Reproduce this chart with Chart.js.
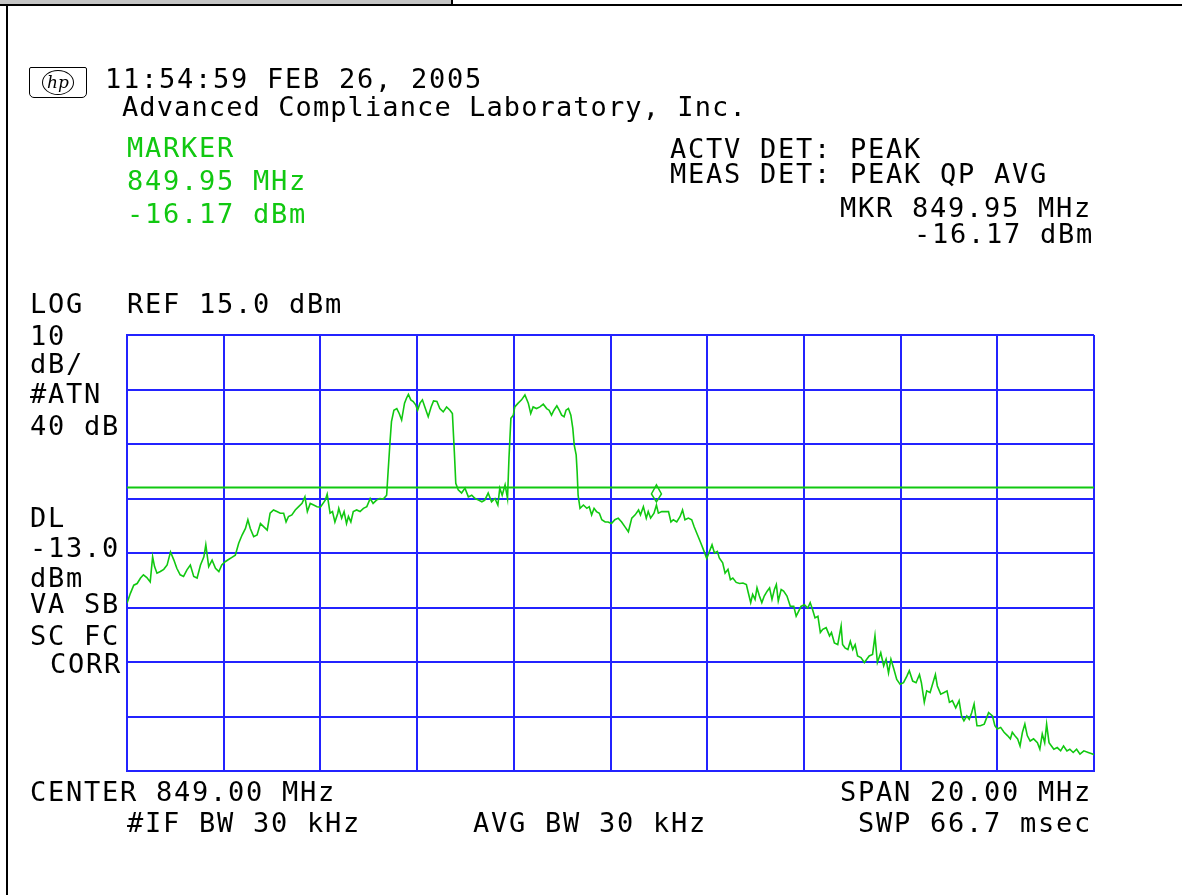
<!DOCTYPE html>
<html>
<head>
<meta charset="utf-8">
<script src="https://cdn.jsdelivr.net/npm/chart.js@4/dist/chart.umd.min.js"></script>
<style>
  body { margin: 0; background: #fff; }
  #page { position: relative; width: 1182px; height: 895px; overflow: hidden; background: #fff; }
  #plot { position: absolute; left: 0; top: 0; width: 1182px; height: 895px; }
  .t { position: absolute; z-index: 2; font-family: 'DejaVu Sans Mono', monospace; font-size: 27px;
       line-height: 27px; letter-spacing: 1.75px; color: #000; white-space: pre; }
  .g { color: #11c811; }
  .bar { position: absolute; z-index: 3; background: #000; }
  #logo { position: absolute; z-index: 2; left: 29px; top: 67px; width: 56px; height: 29px;
          border: 1.5px solid #000; border-radius: 2px 2px 5px 5px; }
  #logo span { position: absolute; left: 12px; top: 2px; width: 30px; height: 23px; border: 1.5px solid #000;
               border-radius: 50%; font: italic 17px 'DejaVu Serif', serif; line-height: 22px; text-align: center; }
</style>
</head>
<body>
<div id="page">
  <div style="position:absolute;left:0;top:0;width:451px;height:4px;background:#c4c4c4;z-index:3"></div>
  <div class="bar" style="left:451px;top:0;width:2px;height:5px"></div>
  <div class="bar" style="left:0;top:4px;width:1182px;height:2px"></div>
  <div class="bar" style="left:6px;top:4px;width:2px;height:891px"></div>

  <div id="plot"><canvas id="myChart"></canvas></div>

  <div id="logo"><span>hp</span></div>
  <div class="t" style="left:105px;top:65px">11:54:59 FEB 26, 2005</div>
  <div class="t" style="left:122px;top:93px;letter-spacing:1.1px">Advanced Compliance Laboratory, Inc.</div>
  <div class="t g" style="left:127px;top:134px">MARKER</div>
  <div class="t g" style="left:127px;top:167px">849.95 MHz</div>
  <div class="t g" style="left:127px;top:200px">-16.17 dBm</div>
  <div class="t" style="left:670px;top:135px">ACTV DET: PEAK</div>
  <div class="t" style="left:670px;top:160px">MEAS DET: PEAK QP AVG</div>
  <div class="t" style="left:840px;top:194px">MKR 849.95 MHz</div>
  <div class="t" style="left:914px;top:220px">-16.17 dBm</div>

  <div class="t" style="left:30px;top:290px">LOG</div>
  <div class="t" style="left:127px;top:290px">REF 15.0 dBm</div>
  <div class="t" style="left:30px;top:322px">10</div>
  <div class="t" style="left:30px;top:350px">dB/</div>
  <div class="t" style="left:30px;top:380px">#ATN</div>
  <div class="t" style="left:30px;top:412px">40 dB</div>
  <div class="t" style="left:30px;top:504px">DL</div>
  <div class="t" style="left:30px;top:534px">-13.0</div>
  <div class="t" style="left:30px;top:564px">dBm</div>
  <div class="t" style="left:30px;top:590px">VA SB</div>
  <div class="t" style="left:30px;top:622px">SC FC</div>
  <div class="t" style="left:50px;top:650px">CORR</div>

  <div class="t" style="left:30px;top:778px">CENTER 849.00 MHz</div>
  <div class="t" style="left:840px;top:778px">SPAN 20.00 MHz</div>
  <div class="t" style="left:127px;top:809px">#IF BW 30 kHz</div>
  <div class="t" style="left:473px;top:809px">AVG BW 30 kHz</div>
  <div class="t" style="left:858px;top:809px">SWP 66.7 msec</div>
</div>

<script>
// trace: frequency (MHz) and level (dBm)
var freqMHz = [
  839.00, 839.07, 839.14, 839.21, 839.28, 839.34, 839.41, 839.48, 839.53, 839.57,
  839.62, 839.69, 839.76, 839.83, 839.90, 839.97, 840.03, 840.10, 840.17, 840.24,
  840.31, 840.38, 840.45, 840.52, 840.59, 840.63, 840.69, 840.76, 840.83, 840.90,
  840.96, 841.03, 841.10, 841.17, 841.24, 841.31, 841.38, 841.45, 841.50, 841.55,
  841.62, 841.69, 841.76, 841.83, 841.90, 841.96, 842.03, 842.10, 842.17, 842.24,
  842.29, 842.34, 842.41, 842.48, 842.55, 842.62, 842.68, 842.73, 842.79, 842.86,
  842.93, 843.00, 843.10, 843.14, 843.20, 843.25, 843.30, 843.36, 843.38, 843.44,
  843.49, 843.54, 843.58, 843.63, 843.68, 843.75, 843.82, 843.89, 843.96, 844.03,
  844.09, 844.16, 844.23, 844.30, 844.37, 844.40, 844.44, 844.47, 844.52, 844.58,
  844.63, 844.68, 844.74, 844.78, 844.82, 844.87, 844.92, 844.97, 845.01, 845.06,
  845.11, 845.16, 845.23, 845.29, 845.34, 845.41, 845.47, 845.54, 845.61, 845.68,
  845.73, 845.77, 845.80, 845.85, 845.92, 845.99, 846.06, 846.13, 846.20, 846.27,
  846.34, 846.40, 846.47, 846.54, 846.61, 846.67, 846.71, 846.76, 846.82, 846.87,
  846.90, 846.94, 846.99, 847.02, 847.09, 847.16, 847.23, 847.30, 847.35, 847.40,
  847.47, 847.54, 847.61, 847.68, 847.73, 847.78, 847.83, 847.89, 847.94, 847.99,
  848.04, 848.08, 848.13, 848.18, 848.22, 848.25, 848.29, 848.31, 848.33, 848.37,
  848.44, 848.51, 848.56, 848.61, 848.66, 848.71, 848.77, 848.82, 848.89, 848.95,
  849.02, 849.09, 849.16, 849.23, 849.30, 849.37, 849.44, 849.51, 849.58, 849.62,
  849.68, 849.74, 849.78, 849.83, 849.90, 849.95, 849.99, 850.06, 850.13, 850.20,
  850.25, 850.30, 850.37, 850.44, 850.49, 850.54, 850.61, 850.68, 850.73, 850.80,
  850.87, 850.94, 850.99, 851.10, 851.15, 851.21, 851.25, 851.32, 851.37, 851.43,
  851.48, 851.53, 851.60, 851.67, 851.74, 851.81, 851.85, 851.90, 851.94, 851.99,
  852.03, 852.08, 852.13, 852.18, 852.24, 852.29, 852.34, 852.39, 852.43, 852.47,
  852.53, 852.58, 852.65, 852.72, 852.79, 852.84, 852.89, 852.94, 853.01, 853.08,
  853.13, 853.18, 853.23, 853.29, 853.34, 853.39, 853.46, 853.53, 853.57, 853.63,
  853.70, 853.77, 853.80, 853.85, 853.91, 853.96, 854.01, 854.06, 854.11, 854.18,
  854.25, 854.30, 854.35, 854.42, 854.47, 854.52, 854.59, 854.65, 854.70, 854.75,
  854.80, 854.86, 854.92, 854.99, 855.06, 855.13, 855.18, 855.25, 855.32, 855.39,
  855.43, 855.49, 855.54, 855.61, 855.68, 855.72, 855.76, 855.83, 855.90, 855.96,
  856.01, 856.07, 856.14, 856.21, 856.26, 856.31, 856.37, 856.42, 856.47, 856.52,
  856.58, 856.65, 856.73, 856.82, 856.90, 856.95, 857.00, 857.07, 857.14, 857.21,
  857.27, 857.31, 857.36, 857.42, 857.47, 857.52, 857.57, 857.62, 857.68, 857.75,
  857.83, 857.88, 857.93, 857.98, 858.02, 858.07, 858.12, 858.17, 858.24, 858.31,
  858.37, 858.44, 858.50, 858.57, 858.64, 858.71, 858.79, 858.88, 858.97, 859.00
];
var levelDbm = [
  -34.2, -32.4, -30.9, -30.6, -29.6, -29.0, -29.5, -30.3, -25.7, -27.5,
  -28.7, -28.4, -28.0, -27.2, -24.8, -26.3, -27.8, -29.0, -29.3, -28.1,
  -27.2, -29.3, -29.6, -27.2, -25.7, -23.5, -27.5, -26.3, -27.8, -28.4,
  -27.2, -26.6, -26.2, -25.8, -25.4, -23.2, -21.7, -20.5, -18.9, -20.5,
  -22.0, -21.7, -19.6, -20.2, -20.8, -17.7, -17.1, -17.4, -17.7, -17.7,
  -19.3, -18.3, -18.0, -17.1, -16.5, -15.9, -14.7, -17.4, -15.9, -16.2,
  -16.5, -16.6, -15.3, -14.2, -17.7, -17.4, -19.3, -17.7, -16.8, -18.6,
  -17.4, -19.6, -18.3, -19.3, -17.4, -17.1, -17.4, -16.8, -16.5, -15.0,
  -15.9, -15.3, -15.0, -15.1, -14.4, -10.1, -4.6, -0.9, 1.2, 1.5,
  0.6, -0.6, 2.5, 3.4, 4.1, 3.1, 2.8, 2.2, 1.2, 2.5,
  3.1, 1.8, 0.0, 1.8, 2.9, 2.8, 1.5, 0.9, 1.8, 1.2,
  0.6, -6.4, -12.2, -13.4, -14.0, -13.1, -14.7, -14.4, -15.0, -15.3,
  -15.6, -15.3, -14.0, -15.6, -15.0, -16.2, -13.1, -14.4, -12.5, -15.0,
  -7.6, -0.3, 0.3, 1.8, 2.5, 3.1, 4.0, 2.5, 0.6, 1.8,
  1.5, 1.8, 2.3, 1.5, 1.2, 0.3, 1.2, 2.0, 1.2, 0.3,
  0.0, 1.2, 1.5, 0.3, -2.1, -5.2, -7.0, -10.1, -14.4, -16.8,
  -16.2, -16.8, -16.5, -18.0, -16.8, -17.4, -17.7, -18.9, -19.3, -19.3,
  -19.6, -18.9, -18.6, -19.3, -20.2, -21.1, -18.6, -18.0, -17.1, -18.0,
  -16.5, -18.6, -17.4, -18.6, -17.7, -16.2, -17.7, -17.4, -17.4, -17.4,
  -19.3, -18.9, -19.3, -18.3, -17.1, -18.9, -18.6, -18.9, -20.2, -21.7,
  -23.2, -24.8, -26.0, -23.5, -25.0, -24.7, -25.9, -26.8, -28.7, -28.0,
  -29.9, -29.6, -30.4, -30.6, -30.5, -30.8, -32.3, -34.1, -32.6, -33.5,
  -31.4, -32.9, -34.1, -32.9, -32.0, -31.4, -33.5, -31.7, -30.8, -33.8,
  -31.7, -32.0, -32.9, -34.8, -34.8, -36.6, -35.7, -34.8, -34.5, -35.1,
  -34.1, -35.4, -36.9, -36.6, -39.6, -39.0, -38.7, -40.2, -39.6, -41.5,
  -41.8, -38.4, -41.8, -42.4, -42.7, -41.2, -42.7, -41.8, -43.9, -44.2,
  -45.1, -44.5, -43.9, -43.6, -40.2, -45.1, -43.3, -45.7, -44.5, -47.0,
  -44.5, -46.3, -48.2, -49.1, -48.8, -47.6, -46.6, -48.5, -48.8, -47.3,
  -48.8, -52.4, -50.3, -50.6, -48.5, -47.3, -49.4, -50.9, -50.6, -50.3,
  -52.4, -52.1, -53.4, -52.1, -54.9, -55.8, -54.9, -55.5, -54.3, -52.7,
  -56.7, -56.7, -56.4, -54.3, -54.9, -56.7, -57.3, -57.0, -57.9, -58.5,
  -59.1, -57.9, -58.5, -59.1, -60.4, -57.9, -56.4, -58.5, -59.5, -59.1,
  -59.8, -61.0, -58.2, -59.8, -56.4, -59.8, -60.4, -61.0, -60.7, -61.3,
  -60.4, -61.3, -61.0, -61.6, -61.0, -61.9, -61.3, -61.6, -61.9, -62.0
];

// screen settings
var startMHz = 839, stopMHz = 859, stepMHz = 2;
var refDbm = 15, bottomDbm = -65, dbPerDiv = 10;
var displayLine = -13.0;
var markerMHz = 849.95, markerDbm = -16.17;

var BLUE = '#2323ff';
var GREEN = '#11c811';

var trace = freqMHz.map(function (f, i) { return { x: f, y: levelDbm[i] }; });

// diamond marker, bottom tip sitting just above the trace point
var markerPlugin = {
    id: 'marker',
    afterDatasetsDraw: function (chart) {
        var ctx = chart.ctx;
        var px = chart.scales.x.getPixelForValue(markerMHz);
        var py = chart.scales.y.getPixelForValue(markerDbm) - 3;
        ctx.save();
        ctx.strokeStyle = GREEN;
        ctx.lineWidth = 1.5;
        ctx.beginPath();
        ctx.moveTo(px, py);
        ctx.lineTo(px - 5, py - 8);
        ctx.lineTo(px, py - 17);
        ctx.lineTo(px + 5, py - 8);
        ctx.closePath();
        ctx.stroke();
        ctx.restore();
    }
};

var ctx = document.getElementById('myChart');
var myChart = new Chart(ctx, {
    type: 'line',
    data: {
        datasets: [{
            data: trace,
            borderColor: GREEN,
            borderWidth: 1.6,
            pointRadius: 0,
            tension: 0
        }, {
            data: [{ x: startMHz, y: displayLine }, { x: stopMHz, y: displayLine }],
            borderColor: GREEN,
            borderWidth: 2,
            pointRadius: 0
        }]
    },
    options: {
        responsive: true,
        maintainAspectRatio: false,
        animation: false,
        events: [],
        layout: { padding: { left: 127, top: 335, right: 88, bottom: 124 } },
        plugins: { legend: { display: false }, tooltip: { enabled: false } },
        scales: {
            x: {
                type: 'linear', min: startMHz, max: stopMHz,
                ticks: { display: false, stepSize: stepMHz },
                grid: { color: BLUE, lineWidth: 2, drawTicks: false },
                border: { color: BLUE, width: 2 }
            },
            y: {
                type: 'linear', min: bottomDbm, max: refDbm,
                ticks: { display: false, stepSize: dbPerDiv },
                grid: { color: BLUE, lineWidth: 2, drawTicks: false },
                border: { color: BLUE, width: 2 }
            }
        }
    },
    plugins: [markerPlugin]
});
</script>
</body>
</html>
